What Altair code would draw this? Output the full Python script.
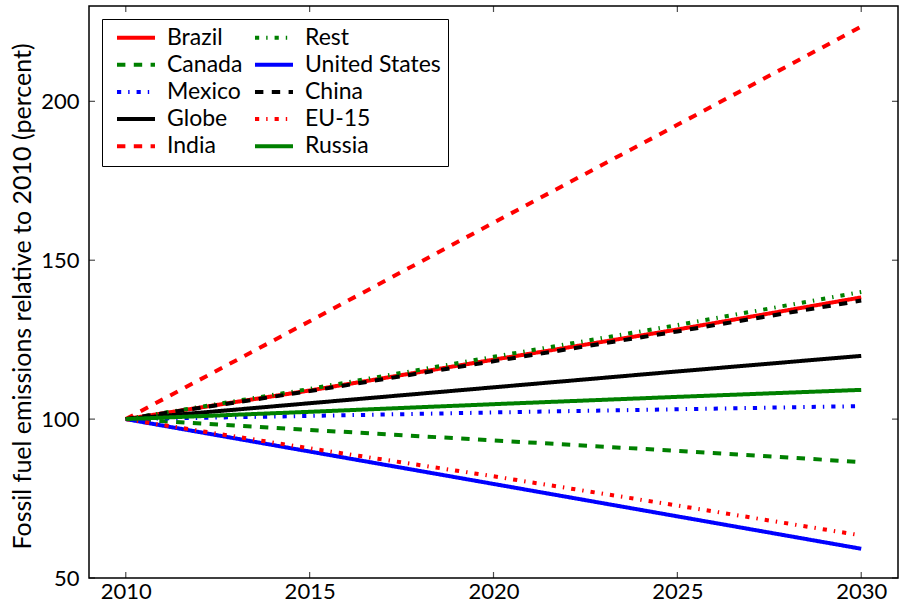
import altair as alt
import pandas as pd

# Projected fossil fuel emissions, indexed to 2010 = 100
years = [2010, 2015, 2020, 2025, 2030]

brazil = [100, 109.0, 118.7, 128.2, 138.3]
canada = [100, 96.6, 93.3, 90.0, 86.5]
mexico = [100, 101.0, 102.1, 103.1, 104.1]
globe = [100, 105.0, 110.0, 115.0, 119.9]
india = [100, 130.8, 161.8, 192.6, 223.5]
rest = [100, 109.5, 119.6, 129.6, 140.0]
united_states = [100, 89.8, 79.6, 69.4, 59.2]
china = [100, 108.8, 118.2, 127.6, 137.3]
eu15 = [100, 90.8, 82.0, 72.8, 63.4]
russia = [100, 102.3, 104.7, 107.0, 109.2]

# drawing order (later series on top); also the legend order, column by column
plot_order = ["Brazil", "Canada", "Mexico", "Globe", "India",
              "Rest", "United States", "China", "EU-15", "Russia"]
series_values = [brazil, canada, mexico, globe, india,
                 rest, united_states, china, eu15, russia]

x_ticks = [2010, 2015, 2020, 2025, 2030]
y_ticks = [50, 100, 150, 200]

SOLID = [1, 0]
DASHED = [8.4, 8.4]
DASHDOT = [4.2, 7, 1.4, 7]

style = {
    "Brazil": ("#ff0000", SOLID),
    "Canada": ("#008000", DASHED),
    "Mexico": ("#0000ff", DASHDOT),
    "Globe": ("#000000", SOLID),
    "India": ("#ff0000", DASHED),
    "Rest": ("#008000", DASHDOT),
    "United States": ("#0000ff", SOLID),
    "China": ("#000000", DASHED),
    "EU-15": ("#ff0000", DASHDOT),
    "Russia": ("#008000", SOLID),
}

rows = []
for name, vals in zip(plot_order, series_values):
    for yr, v in zip(years, vals):
        rows.append({"series": name, "year": yr, "value": v})
df = pd.DataFrame(rows)

FONT = "Lato"
x_scale = alt.Scale(domain=[2009, 2031], nice=False, zero=False)
y_scale = alt.Scale(domain=[50, 230], nice=False, zero=False)

x_axis = alt.Axis(values=x_ticks, format="d", title=None, labelPadding=3)
y_axis = alt.Axis(values=y_ticks, labelPadding=10,
                  title="Fossil fuel emissions relative to 2010 (percent)",
                  titleFontSize=25,
                  titleX=-67, titleY=290, titleAngle=270,
                  titleAlign="center", titleBaseline="middle")

# legend swatch: a 38 px line drawn from a path in symbol units (1 unit = 9.5 px)
legend = alt.Legend(
    title=None, orient="none", legendX=13, legendY=13, columns=2,
    symbolType="M-0.37,0H3.63", symbolSize=361, symbolStrokeWidth=4,
    labelFont=FONT, labelFontSize=23, labelColor="black",
    labelOffset=35, columnPadding=3, rowPadding=3.2, padding=7,
    strokeColor="black", fillColor="white",
)

lines = alt.Chart(df).mark_line(strokeWidth=4, strokeCap="butt", clip=True).encode(
    x=alt.X("year:Q", scale=x_scale, axis=x_axis),
    y=alt.Y("value:Q", scale=y_scale, axis=y_axis),
    color=alt.Color(
        "series:N",
        scale=alt.Scale(domain=plot_order,
                        range=[style[s][0] for s in plot_order]),
        legend=legend,
    ),
    strokeDash=alt.StrokeDash(
        "series:N",
        scale=alt.Scale(domain=plot_order,
                        range=[style[s][1] for s in plot_order]),
        legend=legend,
    ),
)

# inward tick marks on all four sides of the frame
xt = pd.DataFrame({"year": x_ticks})
yt = pd.DataFrame({"value": y_ticks})
tick_len = 6


def x_side_ticks(edge_value, offset):
    return alt.Chart(xt).mark_tick(
        orient="vertical", size=tick_len, thickness=1.2, color="black", yOffset=offset
    ).encode(
        x=alt.X("year:Q", scale=x_scale, axis=x_axis),
        y=alt.YDatum(edge_value, type="quantitative", scale=y_scale, axis=y_axis),
    )


def y_side_ticks(edge_value, offset):
    return alt.Chart(yt).mark_tick(
        orient="horizontal", size=tick_len, thickness=1.2, color="black", xOffset=offset
    ).encode(
        y=alt.Y("value:Q", scale=y_scale, axis=y_axis),
        x=alt.XDatum(edge_value, type="quantitative", scale=x_scale, axis=x_axis),
    )


chart = alt.layer(
    lines,
    x_side_ticks(50, -tick_len / 2),
    x_side_ticks(230, tick_len / 2),
    y_side_ticks(2009, tick_len / 2),
    y_side_ticks(2031, -tick_len / 2),
).properties(
    width=809, height=572,
    padding={"left": 89, "top": 6, "right": 2, "bottom": 27},
    autosize=alt.AutoSizeParams(type="none"),
    background="white",
).configure_view(
    stroke="black", strokeWidth=1.5
).configure_axis(
    labelFont=FONT, labelFontSize=22, labelColor="black",
    titleFont=FONT, titleFontSize=22, titleFontWeight="normal", titleColor="black",
    ticks=False, domain=False, grid=False,
)

chart.save("out.html", embed_options={"renderer": "svg", "actions": False})
